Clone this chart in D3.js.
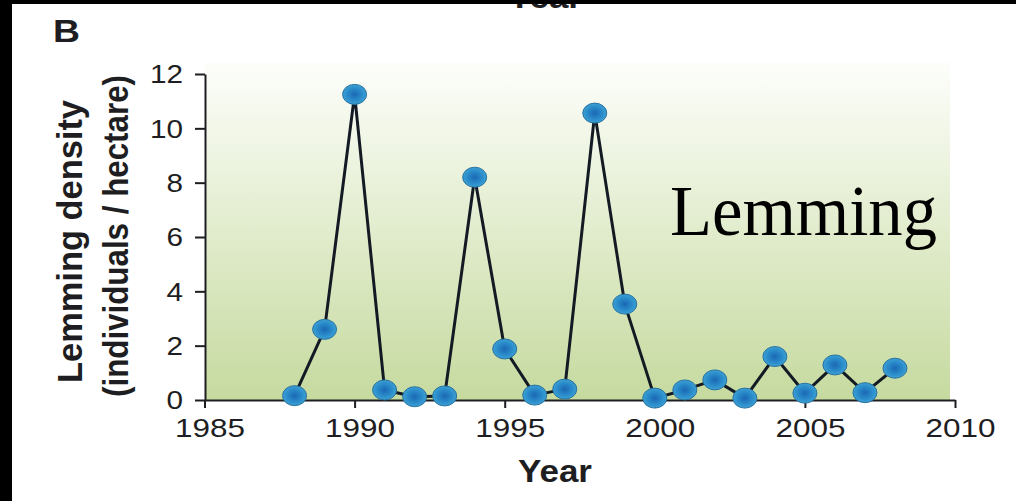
<!DOCTYPE html>
<html>
<head>
<meta charset="utf-8">
<script src="https://cdn.jsdelivr.net/npm/d3@7"></script>
<style>
  html, body { margin: 0; padding: 0; background: #fff; overflow: hidden; }
  svg { display: block; }
</style>
</head>
<body>
<svg id="chart" width="1016" height="501"></svg>
<script>
// Lemming density by census year (individuals / hectare)
const years = [1988, 1989, 1990, 1991, 1992, 1993, 1994, 1995, 1996, 1997, 1998,
               1999, 2000, 2001, 2002, 2003, 2004, 2005, 2006, 2007, 2008];
const density = [0.16, 2.6, 11.25, 0.37, 0.12, 0.15, 8.2, 1.88, 0.18, 0.4, 10.56,
                 3.53, 0.07, 0.37, 0.74, 0.07, 1.6, 0.25, 1.29, 0.27, 1.17];
const xTicks = [1985, 1990, 1995, 2000, 2005, 2010];
const yTicks = [0, 2, 4, 6, 8, 10, 12];

const svg = d3.select("#chart");
const sans = "'Liberation Sans', Arial, Helvetica, sans-serif";
const serif = "'Liberation Serif', 'Times New Roman', Times, serif";
const ink = "#1e1e22";

const x = d3.scaleLinear().domain([1985, 2010]).range([204.5, 955]);
const y = d3.scaleLinear().domain([0, 12]).range([400, 74]);

// background gradient panel
const defs = svg.append("defs");
const bg = defs.append("linearGradient").attr("id", "panelFill")
  .attr("x1", 0).attr("y1", 0).attr("x2", 0).attr("y2", 1);
bg.append("stop").attr("offset", "0%").attr("stop-color", "#fdfefb");
bg.append("stop").attr("offset", "100%").attr("stop-color", "#c6da9f");

const dot = defs.append("radialGradient").attr("id", "dotFill")
  .attr("cx", "50%").attr("cy", "50%").attr("r", "55%");
dot.append("stop").attr("offset", "0%").attr("stop-color", "#1a68b3");
dot.append("stop").attr("offset", "55%").attr("stop-color", "#2a8bca");
dot.append("stop").attr("offset", "100%").attr("stop-color", "#42a6d6");

svg.append("rect")
  .attr("x", 205).attr("y", 62)
  .attr("width", 745).attr("height", 338)
  .attr("fill", "url(#panelFill)");

// stretched text helper
function label(g, txt, opts) {
  const t = g.append("text")
    .attr("x", opts.x).attr("y", opts.y)
    .attr("font-family", opts.family || sans)
    .attr("font-size", opts.size)
    .attr("font-weight", opts.weight || "normal")
    .attr("fill", opts.fill || ink)
    .attr("text-anchor", opts.anchor || "start")
    .text(txt);
  if (opts.len) t.attr("textLength", opts.len).attr("lengthAdjust", "spacingAndGlyphs");
  if (opts.rotate) t.attr("transform", `rotate(${opts.rotate},${opts.x},${opts.y})`);
  return t;
}

// axes
const xAxis = svg.append("g")
  .attr("transform", "translate(0,400)")
  .call(d3.axisBottom(x).tickValues(xTicks).tickFormat(d3.format("d"))
    .tickSize(8).tickSizeOuter(0));
const yAxis = svg.append("g")
  .attr("transform", "translate(205,0)")
  .call(d3.axisLeft(y).tickValues(yTicks).tickSize(10).tickSizeOuter(0));

[xAxis, yAxis].forEach(g => {
  g.select(".domain").attr("stroke", ink).attr("stroke-width", 2);
  g.selectAll(".tick line").attr("stroke", ink).attr("stroke-width", 2);
  g.selectAll(".tick text")
    .attr("fill", ink)
    .attr("font-family", sans)
    .attr("font-size", 25.5)
    .attr("lengthAdjust", "spacingAndGlyphs");
});
xAxis.selectAll(".tick text")
  .attr("y", 37).attr("dy", 0).attr("dx", 5)
  .attr("textLength", 70);
yAxis.selectAll(".tick text")
  .attr("x", -22).attr("dy", "0.35em")
  .attr("textLength", d => String(d).length * 16.5);

// series line and markers
const line = d3.line().x((d, i) => x(years[i])).y(d => y(d));
svg.append("path")
  .datum(density)
  .attr("d", line)
  .attr("fill", "none")
  .attr("stroke", "#141a24")
  .attr("stroke-width", 3)
  .attr("stroke-linejoin", "round");

svg.append("g").selectAll("ellipse")
  .data(density)
  .join("ellipse")
  .attr("cx", (d, i) => x(years[i]))
  .attr("cy", d => y(d))
  .attr("rx", 12).attr("ry", 10)
  .attr("fill", "url(#dotFill)")
  .attr("stroke", "#27729f")
  .attr("stroke-width", 1);

// text
const txt = svg.append("g");
label(txt, "Year", { x: 545, y: 7.5, size: 30.5, weight: "bold", anchor: "middle", len: 74 });
label(txt, "B", { x: 53, y: 42, size: 30.5, weight: "bold", len: 27 });
label(txt, "Year", { x: 555, y: 482, size: 30.5, weight: "bold", anchor: "middle", len: 74 });
label(txt, "Lemming density", { x: 82, y: 241.5, size: 35, weight: "bold", anchor: "middle", len: 283, rotate: -90 });
label(txt, "(individuals / hectare)", { x: 128, y: 236, size: 35, weight: "bold", anchor: "middle", len: 322, rotate: -90 });
label(txt, "Lemming", { x: 670, y: 235, size: 72, family: serif, fill: "#000", len: 267 });

// frame edges
svg.append("rect").attr("x", 0).attr("y", 0).attr("width", 1016).attr("height", 4).attr("fill", "#000");
svg.append("rect").attr("x", 0).attr("y", 0).attr("width", 12).attr("height", 501).attr("fill", "#000");
</script>
</body>
</html>
